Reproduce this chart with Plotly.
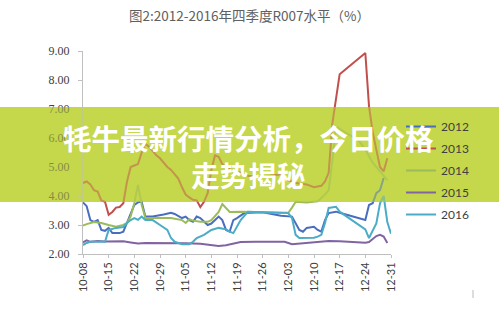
import plotly.graph_objects as go

YEAR = "2000-"
tick_labels = ["10-08", "10-15", "10-22", "10-29", "11-05", "11-12", "11-19",
               "11-26", "12-03", "12-10", "12-17", "12-24", "12-31"]
y_ticks = [2, 3, 4, 5, 6, 7, 8, 9]

d2012 = ["10-08", "10-09", "10-10", "10-11", "10-12", "10-13", "10-14", "10-15", "10-16", "10-18",
         "10-19", "10-20", "10-21", "10-22", "10-23", "10-24", "10-25", "10-27", "10-30", "11-01",
         "11-02", "11-04", "11-05", "11-06", "11-07", "11-08", "11-09", "11-11", "11-12", "11-14",
         "11-15", "11-16", "11-17", "11-18", "11-19", "11-21", "11-26", "12-01", "12-04", "12-06",
         "12-07", "12-08", "12-10", "12-11", "12-12", "12-13", "12-14", "12-16", "12-17", "12-24",
         "12-25", "12-26", "12-27", "12-28", "12-29"]
v2012 = [3.78, 3.65, 3.17, 3.11, 3.17, 2.83, 2.80, 2.90, 2.72, 2.72,
         2.77, 3.07, 3.41, 3.69, 3.78, 3.80, 3.29, 3.29, 3.36, 3.42,
         3.38, 3.24, 3.29, 3.17, 3.11, 3.29, 3.24, 3.00, 3.05, 3.29,
         3.17, 2.83, 2.77, 3.17, 3.24, 3.41, 3.44, 3.32, 3.29, 2.83,
         2.77, 2.90, 2.94, 2.83, 2.77, 3.17, 3.41, 3.46, 3.42, 3.17,
         3.69, 3.75, 4.10, 4.20, 4.62]

d2013 = ["10-08", "10-09", "10-10", "10-11", "10-12", "10-13", "10-14", "10-15", "10-16", "10-17",
         "10-18", "10-19", "10-20", "10-21", "10-22", "10-23", "10-24", "10-25", "10-26", "10-27",
         "10-28", "10-29", "10-30", "10-31", "11-01", "11-02", "11-03", "11-04", "11-05", "11-06",
         "11-07", "11-08", "11-09", "11-10", "11-11", "11-12", "11-13", "11-14", "11-15", "11-16",
         "11-18", "11-20", "11-22", "11-25", "11-28", "12-01", "12-03", "12-05", "12-08", "12-10",
         "12-12", "12-13", "12-14", "12-15", "12-17", "12-24", "12-25", "12-26", "12-27", "12-28",
         "12-29", "12-30"]
v2013 = [4.45, 4.50, 4.40, 4.20, 4.15, 3.85, 3.80, 3.35, 3.45, 3.60,
         3.62, 3.75, 4.50, 5.00, 5.05, 5.10, 5.50, 5.80, 5.70, 5.55,
         5.40, 5.30, 5.15, 5.00, 4.90, 4.75, 4.60, 4.30, 4.05, 3.95,
         3.87, 3.85, 3.62, 3.80, 4.10, 4.90, 5.40, 5.35, 5.10, 5.00,
         4.85, 4.80, 4.70, 4.65, 4.70, 4.75, 4.55, 4.45, 4.40, 4.30,
         4.35, 4.50, 4.80, 6.50, 8.20, 8.93, 7.10, 6.20, 5.60, 5.00,
         4.85, 5.30]

d2014 = ["10-08", "10-09", "10-11", "10-13", "10-15", "10-17", "10-19", "10-20", "10-21", "10-22",
         "10-23", "10-24", "10-25", "10-27", "11-01", "11-04", "11-05", "11-06", "11-07", "11-09",
         "11-11", "11-12", "11-14", "11-15", "11-17", "11-20", "11-26", "12-03", "12-04", "12-05",
         "12-08", "12-11", "12-13", "12-14", "12-15", "12-16", "12-19", "12-22", "12-24", "12-26",
         "12-28", "12-29", "12-30"]
v2014 = [2.98, 3.03, 3.10, 3.07, 3.00, 2.94, 3.00, 3.07, 3.30, 3.76,
         4.38, 3.70, 3.24, 3.24, 3.24, 3.17, 3.07, 3.20, 3.15, 3.11,
         3.11, 3.17, 3.45, 3.72, 3.45, 3.46, 3.43, 3.42, 3.60, 3.80,
         3.78, 3.82, 4.05, 4.20, 5.20, 6.40, 6.15, 5.95, 5.60, 5.15,
         4.85, 4.70, 4.55]

d2015 = ["10-08", "10-09", "10-10", "10-12", "10-14", "10-16", "10-19", "10-21", "10-22", "10-23",
         "10-25", "10-28", "11-01", "11-05", "11-09", "11-12", "11-14", "11-16", "11-18", "11-20",
         "11-24", "11-28", "12-02", "12-04", "12-06", "12-09", "12-12", "12-14", "12-17", "12-20",
         "12-24", "12-25", "12-27", "12-28", "12-29", "12-30"]
v2015 = [2.40, 2.47, 2.42, 2.45, 2.43, 2.44, 2.44, 2.40, 2.37, 2.36,
         2.38, 2.38, 2.38, 2.37, 2.35, 2.31, 2.28, 2.30, 2.35, 2.41,
         2.42, 2.42, 2.42, 2.34, 2.36, 2.40, 2.43, 2.45, 2.44, 2.42,
         2.39, 2.41, 2.62, 2.66, 2.60, 2.38]

d2016 = ["10-08", "10-09", "10-10", "10-13", "10-14", "10-15", "10-17", "10-19", "10-20", "10-21",
         "10-22", "10-23", "10-24", "10-25", "10-27", "10-29", "10-31", "11-01", "11-02", "11-04",
         "11-06", "11-07", "11-08", "11-10", "11-12", "11-14", "11-16", "11-17", "11-18", "11-20",
         "11-22", "11-26", "12-03", "12-04", "12-05", "12-06", "12-08", "12-10", "12-11", "12-12",
         "12-13", "12-14", "12-16", "12-17", "12-24", "12-25", "12-27", "12-28", "12-29", "12-30",
         "12-31"]
v2016 = [2.31, 2.38, 2.42, 2.42, 2.42, 2.83, 2.90, 2.93, 3.07, 3.17,
         3.24, 3.18, 3.29, 3.17, 3.17, 3.00, 2.83, 2.55, 2.42, 2.34,
         2.34, 2.42, 2.55, 2.66, 2.83, 2.90, 2.85, 2.77, 2.72, 3.17,
         3.46, 3.44, 3.41, 3.24, 2.66, 2.55, 2.55, 2.56, 2.60, 2.66,
         3.07, 3.59, 3.63, 3.46, 2.85, 2.55, 3.05, 3.75, 4.00, 3.10,
         2.70]

series = [
    ("2012", d2012, v2012, "#4a6ebf"),
    ("2013", d2013, v2013, "#c0504d"),
    ("2014", d2014, v2014, "#9bbb59"),
    ("2015", d2015, v2015, "#8064a2"),
    ("2016", d2016, v2016, "#4bacc6"),
]

fig = go.Figure()
for name, dates, vals, color in series:
    fig.add_trace(go.Scatter(
        x=[YEAR + d for d in dates], y=vals, mode="lines", name=name,
        legendgroup=name, line=dict(color=color, width=2)))

W, H = 499, 311
L, R, T, B = 83, 108, 51, 57
pw, ph = W - L - R, H - T - B

def px_x(p):
    return (p - L) / pw

def px_y(p):
    return (H - B - p) / ph

banner = "rgb(197,215,74)"
shapes = [
    dict(type="rect", xref="paper", yref="paper", x0=px_x(0), x1=px_x(W),
         y0=px_y(202), y1=px_y(107), fillcolor=banner, line=dict(width=0), layer="below"),
    dict(type="rect", xref="paper", yref="paper", x0=px_x(0), x1=px_x(W),
         y0=px_y(202), y1=px_y(107), fillcolor=banner, opacity=0.5,
         line=dict(width=0), layer="above"),
    dict(type="line", xref="paper", yref="paper", x0=px_x(473), x1=px_x(473),
         y0=px_y(298), y1=px_y(290), line=dict(color="#bbbbbb", width=1)),
]

fig.update_layout(
    width=W, height=H,
    margin=dict(l=L, r=R, t=T, b=B),
    paper_bgcolor="white", plot_bgcolor="rgba(0,0,0,0)",
    title=dict(text="图2:2012-2016年四季度R007水平（%）", x=0.5, xanchor="center",
               xref="container", yref="container", y=1 - 16 / H, yanchor="middle",
               font=dict(family="Noto Sans CJK SC", size=13.5, color="#606060")),
    xaxis=dict(type="date", range=[YEAR + "10-08", YEAR + "12-31"],
               tickvals=[YEAR + t for t in tick_labels], ticktext=tick_labels,
               tickangle=-90, ticks="outside", ticklen=3, tickcolor="#bfbfbf",
               showline=True, linecolor="#bfbfbf", linewidth=1, showgrid=False,
               zeroline=False,
               tickfont=dict(family="Lato", size=11, color="#404040")),
    yaxis=dict(range=[2, 9], tickvals=y_ticks, ticktext=["%.2f" % v for v in y_ticks],
               ticks="outside", ticklen=4, tickcolor="#bfbfbf", ticklabelstandoff=6,
               showline=True, linecolor="#bfbfbf", linewidth=1, showgrid=False,
               zeroline=False,
               tickfont=dict(family="Liberation Serif", size=12, color="#404040")),
    legend=dict(x=px_x(401), xanchor="left", y=px_y(112), yanchor="top",
                bgcolor="rgba(0,0,0,0)", tracegroupgap=3, itemwidth=30,
                font=dict(family="Lato", size=12, color="#404040")),
    shapes=shapes,
    annotations=[dict(
        text="牦牛最新行情分析，今日价格<br>走势揭秘", xref="paper", yref="paper",
        x=px_x(248), y=px_y(156), xanchor="center", yanchor="middle", showarrow=False,
        font=dict(family="Noto Sans CJK SC", size=28.5, color="white", weight="bold"))],
)

fig.write_html("out.html")
